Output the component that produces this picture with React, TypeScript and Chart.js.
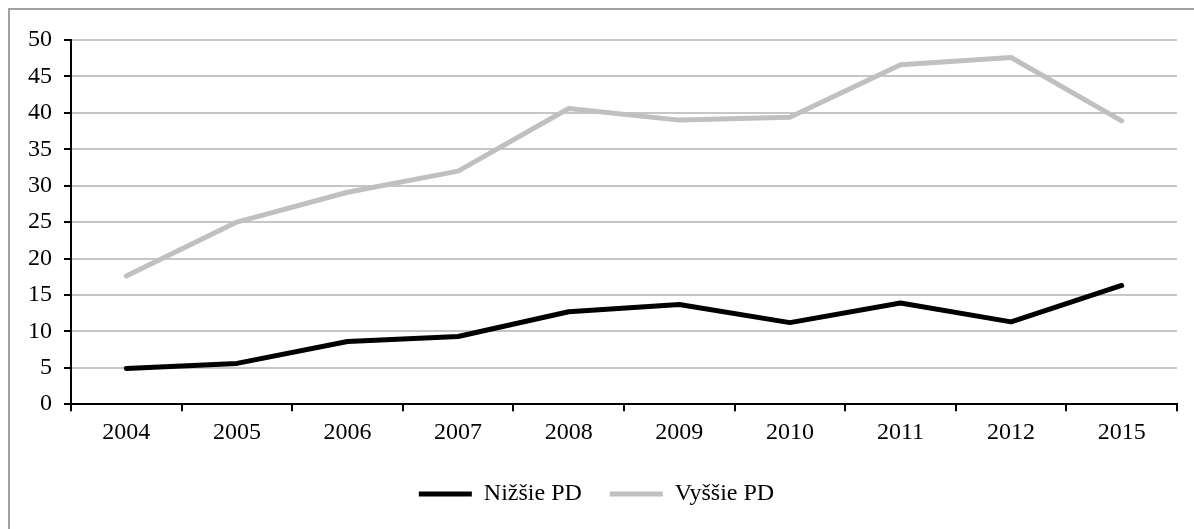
import React, { useEffect, useRef } from "react";
import { Chart, registerables } from "chart.js";

Chart.register(...registerables);

const years = ["2004", "2005", "2006", "2007", "2008", "2009", "2010", "2011", "2012", "2015"];
const nizsiePD = [4.9, 5.6, 8.6, 9.3, 12.7, 13.7, 11.2, 13.9, 11.3, 16.3];
const vyssiePD = [17.6, 25.0, 29.1, 32.0, 40.6, 39.0, 39.4, 46.6, 47.6, 38.9];
const seriesNames = ["Nižšie PD", "Vyššie PD"];

const FONT = "'Liberation Serif', 'Times New Roman', serif";

export default function App() {
  const ref = useRef<HTMLCanvasElement | null>(null);

  useEffect(() => {
    if (!ref.current) return;
    const chart = new Chart(ref.current, {
      type: "line",
      data: {
        labels: years,
        datasets: [
          {
            label: seriesNames[0],
            data: nizsiePD,
            borderColor: "#000000",
            backgroundColor: "#000000",
            borderWidth: 5,
            pointRadius: 0,
            borderCapStyle: "round",
            borderJoinStyle: "round",
            tension: 0,
          },
          {
            label: seriesNames[1],
            data: vyssiePD,
            borderColor: "#c0c0c0",
            backgroundColor: "#c0c0c0",
            borderWidth: 5,
            pointRadius: 0,
            borderCapStyle: "round",
            borderJoinStyle: "round",
            tension: 0,
          },
        ],
      },
      options: {
        responsive: true,
        maintainAspectRatio: false,
        animation: false,
        layout: { padding: { top: 30, right: 17, left: 6, bottom: 13 } },
        plugins: {
          tooltip: { enabled: false },
          legend: {
            position: "bottom",
            labels: {
              usePointStyle: true,
              pointStyle: "line",
              pointStyleWidth: 53,
              color: "#000",
              padding: 28,
              font: { family: FONT, size: 24 },
            },
          },
        },
        scales: {
          x: {
            offset: true,
            grid: {
              offset: true,
              drawOnChartArea: false,
              color: "#000",
              tickColor: "#000",
              tickLength: 7,
              lineWidth: 2,
            },
            border: { color: "#000", width: 2 },
            ticks: { color: "#000", font: { family: FONT, size: 24 }, padding: 7, maxRotation: 0, autoSkip: false },
          },
          y: {
            min: 0,
            max: 50,
            ticks: { stepSize: 5, color: "#000", font: { family: FONT, size: 24 }, padding: 12 },
            grid: { color: "#c6c6c6", lineWidth: 2, tickColor: "#000", tickLength: 7 },
            border: { color: "#000", width: 2 },
          },
        },
      },
    });
    return () => chart.destroy();
  }, []);

  return (
    <div style={{ position: "fixed", inset: 0, overflow: "hidden", background: "#fff" }}>
      <div
        style={{
          position: "absolute",
          left: 8,
          top: 8,
          width: 1200,
          height: 540,
          borderLeft: "2px solid #a0a0a0",
          borderTop: "2px solid #a0a0a0",
          boxSizing: "border-box",
        }}
      >
        <div style={{ position: "absolute", left: 0, top: 0, width: 1184, height: 519 }}>
          <canvas ref={ref} />
        </div>
      </div>
    </div>
  );
}
